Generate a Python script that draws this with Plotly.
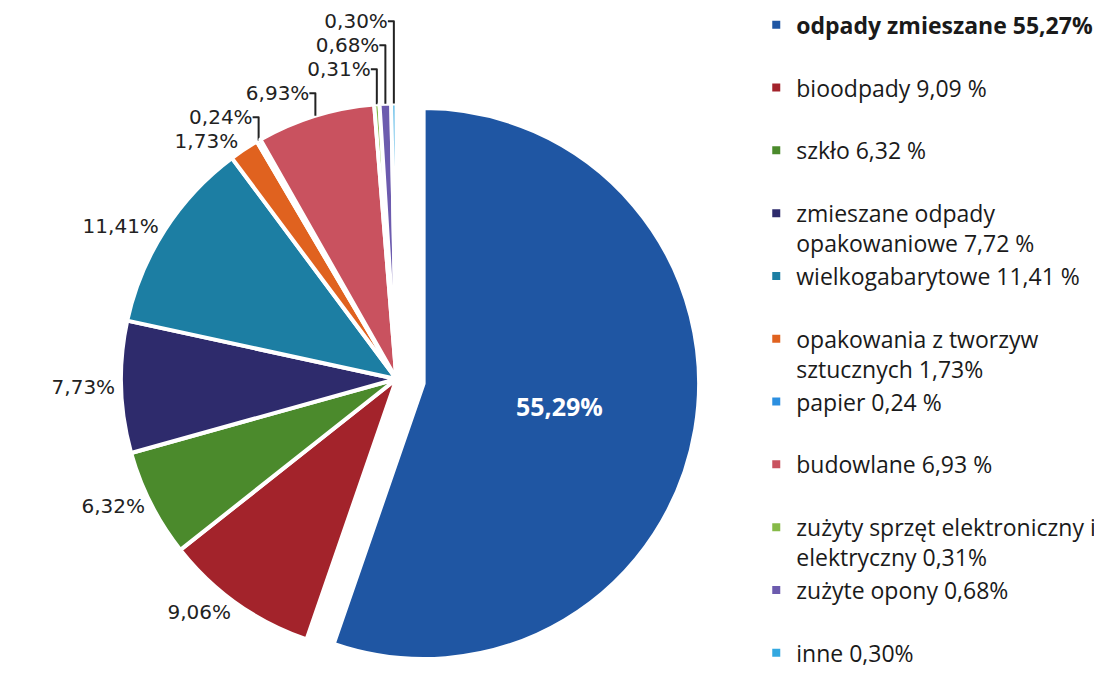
import plotly.graph_objects as go

legend_names = [
    "<b>odpady zmieszane 55,27%</b>",
    "bioodpady 9,09 %",
    "szkło 6,32 %",
    "zmieszane odpady<br>opakowaniowe 7,72 %",
    "wielkogabarytowe 11,41 %",
    "opakowania z tworzyw<br>sztucznych 1,73%",
    "papier 0,24 %",
    "budowlane 6,93 %",
    "zużyty sprzęt elektroniczny i<br>elektryczny 0,31%",
    "zużyte opony 0,68%",
    "inne 0,30%",
]
single_line_pad = [True, True, True, False, True, False, True, True, False, True, True]
values = [55.29, 9.06, 6.32, 7.73, 11.41, 1.73, 0.24, 6.93, 0.31, 0.68, 0.30]
slice_text = ["55,29%", "9,06%", "6,32%", "7,73%", "11,41%", "1,73%", "0,24%",
              "6,93%", "0,31%", "0,68%", "0,30%"]
colors = ["#1F56A3", "#A3232B", "#4B8A2C", "#2E2B6C", "#1C7EA3", "#E0621F",
          "#2C8FE0", "#C9525F", "#86BA48", "#6C5BAE", "#33A8E0"]
pulls = [0.1, 0, 0, 0, 0, 0, 0, 0, 0, 0, 0]

labels = [n + ("<br> " if pad else "") for n, pad in zip(legend_names, single_line_pad)]
positions = ["inside"] + ["outside"] * (len(values) - 1)

fig = go.Figure(go.Pie(
    labels=labels,
    values=values,
    text=slice_text,
    textinfo="text",
    textposition=positions,
    insidetextorientation="horizontal",
    insidetextfont=dict(family="Open Sans", size=25, color="white", weight="bold"),
    outsidetextfont=dict(family="DejaVu Sans", size=20, color="#222222"),
    marker=dict(colors=colors, line=dict(color="white", width=4)),
    pull=pulls,
    sort=False,
    direction="clockwise",
    rotation=0,
    domain=dict(x=[0.0, 0.705], y=[0.0, 1.0]),
    hoverinfo="label+value",
    automargin=False,
))

fig.update_layout(
    width=1102,
    height=674,
    margin=dict(l=0, r=0, t=68, b=0, autoexpand=False),
    paper_bgcolor="white",
    plot_bgcolor="white",
    legend=dict(
        x=0.679, y=1.12, xanchor="left", yanchor="top",
        font=dict(family="Open Sans", size=23, color="#1a1a1a"),
        valign="top",
        maxheight=674,
        bgcolor="rgba(0,0,0,0)",
    ),
)

fig.write_html("out.html")
